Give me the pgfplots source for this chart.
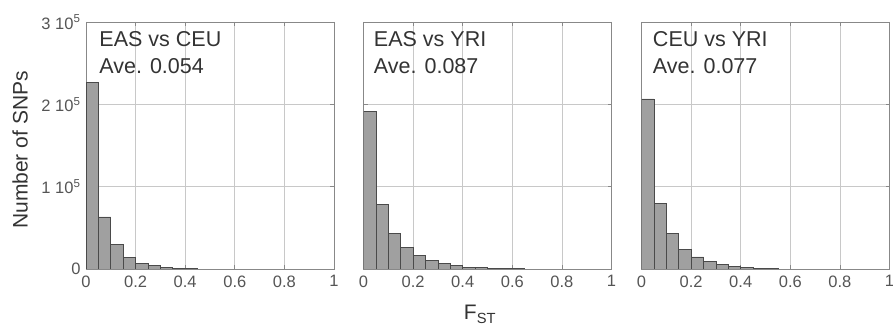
\documentclass[border=0pt]{standalone}
\usepackage{fontspec}
\setmainfont{Liberation Sans}
\usepackage{pgfplots}
\pgfplotsset{compat=1.18}
\definecolor{txt}{HTML}{333333}
\definecolor{tickc}{HTML}{555555}
\definecolor{gridc}{HTML}{C8C8C8}
\definecolor{barf}{HTML}{A0A0A0}
\definecolor{bare}{HTML}{4A4A4A}
\definecolor{framec}{HTML}{888888}
\pgfplotsset{panel/.style={
  anchor=south west, scale only axis, width=248pt, height=247pt,
  xmin=0,xmax=1,ymin=0,ymax=3,
  xtick={0,0.2,0.4,0.6,0.8,1}, xticklabels={0,0.2,0.4,0.6,0.8,1},
  ytick={0,1,2,3},
  grid=major, major grid style={gridc, line width=0.8pt},
  axis line style={framec, line width=0.8pt},
  tick style={framec, line width=0.8pt}, major tick length=4pt, tick align=inside,
  tick label style={font=\fontsize{16.5}{19}\selectfont, text=tickc},
  xticklabel style={yshift=-3pt},
  yticklabel style={xshift=-2pt},
}}
\begin{document}
\begin{tikzpicture}
\useasboundingbox (0pt,0pt) rectangle (893pt,328pt);
\begin{axis}[panel, at={(86pt,59pt)},
  yticklabels={0,1 10\textsuperscript{5},2 10\textsuperscript{5},3 10\textsuperscript{5}}]
\addplot[ybar interval, fill=barf, draw=bare, line width=0.7pt] coordinates {
(0,2.27) (0.05,0.632) (0.10,0.296) (0.15,0.142) (0.20,0.069) (0.25,0.040) (0.30,0.024) (0.35,0.012) (0.40,0.006) (0.45,0)};
\node[anchor=base west, font=\fontsize{21.5}{24}\selectfont, text=txt] at (axis cs:0.04,2.70) {EAS vs CEU};
\node[anchor=base west, font=\fontsize{21.5}{24}\selectfont, text=txt] at (axis cs:0.04,2.37) {Ave. 0.054};
\end{axis}
\begin{axis}[panel, at={(363.5pt,59pt)}, yticklabels={}]
\addplot[ybar interval, fill=barf, draw=bare, line width=0.7pt] coordinates {
(0,1.916) (0.05,0.78) (0.10,0.437) (0.15,0.263) (0.20,0.162) (0.25,0.109) (0.30,0.065) (0.35,0.040) (0.40,0.024) (0.45,0.016) (0.50,0.012) (0.55,0.008) (0.60,0.005) (0.65,0)};
\node[anchor=base west, font=\fontsize{21.5}{24}\selectfont, text=txt] at (axis cs:0.028,2.70) {EAS vs YRI};
\node[anchor=base west, font=\fontsize{21.5}{24}\selectfont, text=txt] at (axis cs:0.028,2.37) {Ave. 0.087};
\end{axis}
\begin{axis}[panel, at={(641.5pt,59pt)}, yticklabels={}]
\addplot[ybar interval, fill=barf, draw=bare, line width=0.7pt] coordinates {
(0,2.066) (0.05,0.798) (0.10,0.433) (0.15,0.235) (0.20,0.146) (0.25,0.089) (0.30,0.053) (0.35,0.032) (0.40,0.016) (0.45,0.008) (0.50,0.005) (0.55,0)};
\node[anchor=base west, font=\fontsize{21.5}{24}\selectfont, text=txt] at (axis cs:0.032,2.70) {CEU vs YRI};
\node[anchor=base west, font=\fontsize{21.5}{24}\selectfont, text=txt] at (axis cs:0.032,2.37) {Ave. 0.077};
\end{axis}
\node[rotate=90, anchor=base, font=\fontsize{21}{24}\selectfont, text=txt] at (27.5pt,178pt) {Number of SNPs};
\node[anchor=base, font=\fontsize{21}{24}\selectfont, text=txt] at (480pt,8pt) {F\textsubscript{ST}};
\end{tikzpicture}
\end{document}
